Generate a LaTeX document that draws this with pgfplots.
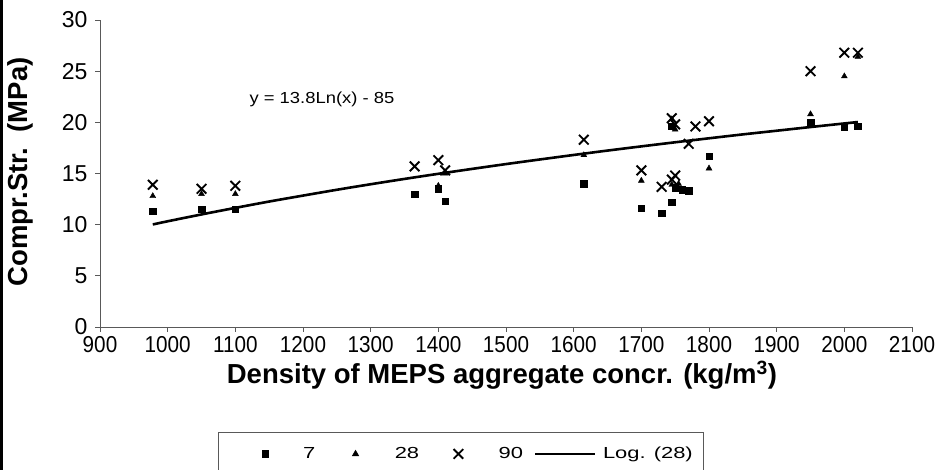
\documentclass[border=0pt]{standalone}
\usepackage{fontspec}
\setmainfont{Liberation Sans}
\usepackage{pgfplots}
\pgfplotsset{compat=1.18}

% Legend samples: a fixed-width cell with the mark placed at a given offset
\pgfplotsset{
  markleg/.style n args={2}{legend image code/.code={%
    \path[draw=none, fill=none] (0pt,-5pt) rectangle (#1,5pt);
    \draw[##1] plot coordinates {(#2,0pt)};}},
}

% Compressive strength at 7, 28 and 90 days vs. concrete density
\pgfplotstableread{
dens  fc
978   11.3
1050  11.5
1100  11.5
1365  13.0
1400  13.5
1410  12.3
1615  14.0
1700  11.6
1730  11.1
1745  12.2
1750  13.6
1760  13.4
1770  13.3
1745  19.6
1800  16.7
1950  20.0
2000  19.5
2020  19.6
}\daySeven

\pgfplotstableread{
dens  fc
978   12.8
1050  13.0
1100  13.0
1400  13.8
1410  15.0
1615  16.8
1700  14.3
1745  13.9
1755  14.0
1745  20.3
1750  19.3
1800  15.5
1950  20.8
2000  24.5
2020  26.4
}\dayTwentyEight

\pgfplotstableread{
dens  fc
978   13.9
1050  13.5
1100  13.8
1365  15.7
1400  16.3
1410  15.3
1615  18.3
1700  15.3
1730  13.7
1745  14.4
1750  14.8
1745  20.4
1750  19.8
1770  17.9
1780  19.6
1800  20.1
1950  25.0
2000  26.8
2020  26.8
}\dayNinety

% Logarithmic trend of the 28-day strength: y = 13.8 ln(x) - 85
\pgfplotstableread{
dens  fc
978   10.02
1000  10.33
1050  11.00
1100  11.64
1150  12.26
1200  12.84
1250  13.41
1300  13.95
1350  14.47
1400  14.97
1450  15.45
1500  15.92
1550  16.37
1600  16.81
1650  17.24
1700  17.65
1750  18.05
1800  18.44
1850  18.82
1900  19.18
1950  19.54
2000  19.89
2020  20.03
}\trend

\begin{document}
\begin{tikzpicture}
\path[use as bounding box] (0pt,0pt) rectangle (947pt,470pt);
\fill[black] (0pt,0pt) rectangle (2.5pt,470pt);
\begin{axis}[
  at={(100pt,143pt)}, anchor=south west,
  scale only axis, width=812pt, height=307pt,
  xmin=900, xmax=2100, ymin=0, ymax=30,
  xtick distance=100, ytick distance=5,
  axis lines=left,
  axis line style={gray!70!black, line width=0.9pt, -},
  tick style={gray!70!black, line width=0.9pt},
  tick align=outside, major tick length=5pt,
  /pgf/number format/assume math mode=true,
  /pgf/number format/1000 sep={},
  yticklabel style={font=\fontsize{23}{26}\selectfont, xshift=-4pt},
  xticklabel style={font=\fontsize{23}{26}\selectfont, xscale=0.9, yshift=-1pt},
  xlabel={\textbf{Density of MEPS aggregate concr. (kg/m\textsuperscript{3})}},
  ylabel={\textbf{Compr.Str.~~(MPa)}},
  xlabel style={font=\fontsize{27.5}{30}\selectfont, at={(axis description cs:0.495,-0.158)}, anchor=center},
  ylabel style={font=\fontsize{27.5}{30}\selectfont, at={(axis description cs:-0.0985,0.505)}, anchor=center, rotate=0},
  legend columns=4,
  legend style={at={(0.1453,-0.342)}, anchor=north west, draw=gray!70!black, line width=0.8pt,
    font=\fontsize{16}{19}\selectfont, inner xsep=8pt, inner ysep=13pt,
    nodes={xscale=1.37},
    /tikz/every odd column/.append style={column sep=4pt},
    /tikz/column 2/.append style={column sep=27.5pt},
    /tikz/column 4/.append style={column sep=27.5pt},
    /tikz/column 6/.append style={column sep=8.5pt},
    /tikz/column 7/.append style={column sep=4pt}},
  clip=false,
]
\addplot[only marks, mark=square*, mark size=3.2pt, black, markleg={70pt}{39pt}]
  table[x=dens,y=fc] {\daySeven};
\addlegendentry{7}
\addplot[only marks, mark=triangle*, mark size=3.4pt, black, markleg={42.5pt}{10pt}]
  table[x=dens,y=fc] {\dayTwentyEight};
\addlegendentry{28}
\addplot[only marks, mark=x, mark size=6.8pt, black, line width=1.9pt, markleg={42.5pt}{9pt}]
  table[x=dens,y=fc] {\dayNinety};
\addlegendentry{90}
\addplot[black, line width=2.6pt, smooth, no marks,
  legend image code/.code={\draw[black, line width=2pt] (0pt,0pt) -- (60pt,0pt);}]
  table[x=dens,y=fc] {\trend};
\addlegendentry{Log. (28)}
\node[font=\fontsize{16}{18}\selectfont, xscale=1.15] at (axis cs:1228,22.2) {y = 13.8Ln(x) - 85};
\end{axis}
\end{tikzpicture}
\end{document}
